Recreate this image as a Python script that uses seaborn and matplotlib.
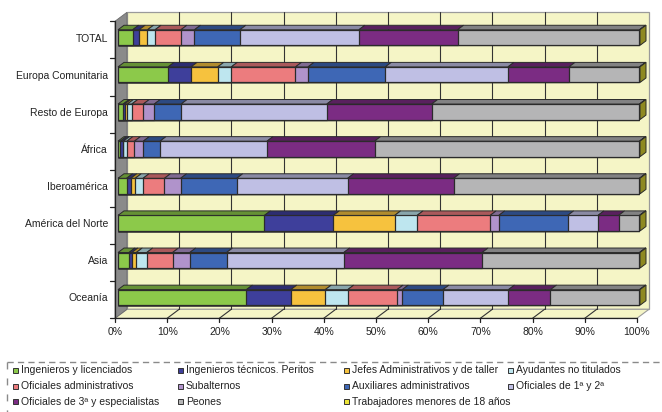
import numpy as np
import pandas as pd
import matplotlib
matplotlib.use('Agg')
import matplotlib.pyplot as plt
from matplotlib.patches import Polygon, Rectangle
from matplotlib.lines import Line2D
from matplotlib.colors import to_rgb
import seaborn as sns

# Data (% of each region)
regions = ['TOTAL', 'Europa Comunitaria', 'Resto de Europa', 'África', 'Iberoamérica',
           'América del Norte', 'Asia', 'Oceanía']

ing_lic = [2.8, 9.6, 1.0, 0.45, 1.65, 28.05, 2.1, 24.6]
ing_tec = [1.25, 4.4, 0.3, 0.5, 0.8, 13.2, 0.55, 8.5]
jefes = [1.6, 5.1, 0.5, 0.1, 0.85, 11.75, 0.85, 6.6]
ayudantes = [1.45, 2.6, 0.85, 0.65, 1.5, 4.3, 2.0, 4.3]
of_admin = [4.95, 12.3, 2.2, 1.45, 4.1, 14.0, 4.95, 9.45]
subalternos = [2.6, 2.4, 2.1, 1.7, 3.1, 1.65, 3.3, 1.0]
aux_admin = [8.7, 14.8, 5.15, 3.2, 10.75, 13.2, 7.05, 7.8]
of_1_2 = [22.8, 23.5, 27.9, 20.5, 21.25, 5.8, 22.45, 12.55]
of_3 = [18.9, 11.7, 20.1, 20.6, 20.3, 3.95, 26.5, 8.05]
peones = [34.85, 13.5, 39.8, 50.75, 35.6, 4.0, 30.15, 17.05]
menores = [0.1, 0.1, 0.1, 0.1, 0.1, 0.1, 0.1, 0.1]

labels = ['Ingenieros y licenciados', 'Ingenieros técnicos. Peritos',
          'Jefes Administrativos y de taller', 'Ayudantes no titulados',
          'Oficiales administrativos', 'Subalternos', 'Auxiliares administrativos',
          'Oficiales de 1ª y 2ª', 'Oficiales de 3ª y especialistas', 'Peones',
          'Trabajadores menores de 18 años']
series = [ing_lic, ing_tec, jefes, ayudantes, of_admin, subalternos, aux_admin,
          of_1_2, of_3, peones, menores]
xticks = [0, 10, 20, 30, 40, 50, 60, 70, 80, 90, 100]

COLORS = ['#8CC94A', '#3E3F9B', '#F6C23E', '#BEE6EF', '#EC7C7E', '#B093CB',
          '#3E67B5', '#BFBFE4', '#7B2C83', '#B5B5B6', '#EDE537']
EDGE = '#2b2b2b'
WALL = '#F5F5C6'

sns.set_style('white')
plt.rcParams['font.family'] = ['Liberation Sans', 'DejaVu Sans']
plt.rcParams['font.size'] = 7.5

W, H = 662, 412
AX_L, AX_R, AX_T, AX_B = 118, 640, 19, 316
SX = (AX_R - AX_L) / 100.0
SY = (AX_B - AX_T) / 8.0
FRONT = (-3, -2.25)
BACK = (9, 6.75)
BAR_D = (6, 4.5)


def shift(x, y, d):
    return (x + d[0] / SX, y - d[1] / SY)


def darker(c, f=0.72):
    return tuple(v * f for v in to_rgb(c))


fig = plt.figure(figsize=(W / 100, H / 100), dpi=100)
ax = fig.add_axes([AX_L / W, 1 - AX_B / H, (AX_R - AX_L) / W, (AX_B - AX_T) / H])

# cumulative stack, drawn longest first so every segment stays visible
cum = np.cumsum(np.array(series), axis=0)
bars = {}
for i in reversed(range(len(series))):
    df = pd.DataFrame({'region': regions, 'value': cum[i]})
    sns.barplot(data=df, x='value', y='region', order=regions, orient='h',
                color=COLORS[i], saturation=1, width=0.42, edgecolor=EDGE,
                linewidth=0.9, errorbar=None, ax=ax, zorder=3)
    bars[i] = ax.containers[-1]

ax.set_xlim(0, 100)
ax.set_ylim(7.5, -0.5)
ax.patch.set_visible(False)
for s in ax.spines.values():
    s.set_visible(False)
ax.set_xlabel('')
ax.set_ylabel('')
ax.set_xticks([])
ax.set_yticks(range(len(regions)))
ax.set_yticklabels(regions, fontsize=7.5, color='#222222')
ax.tick_params(axis='y', length=0, pad=7.2)

y0, y1 = -0.5, 7.5
# back wall
wall = [shift(0, y0, BACK), shift(100, y0, BACK), shift(100, y1, BACK), shift(0, y1, BACK)]
ax.add_patch(Polygon(wall, closed=True, facecolor=WALL, edgecolor='#9a9a9a',
                     linewidth=0.9, zorder=0.5, clip_on=False))
for t in xticks[1:-1]:
    a, b = shift(t, y0, BACK), shift(t, y1, BACK)
    ax.plot([a[0], b[0]], [a[1], b[1]], color='#333333', lw=0.8, zorder=1, clip_on=False)
# floor
floor = [shift(0, y1, FRONT), shift(100, y1, FRONT), shift(100, y1, BACK), shift(0, y1, BACK)]
ax.add_patch(Polygon(floor, closed=True, facecolor=WALL, edgecolor='#9a9a9a',
                     linewidth=0.8, zorder=0.8, clip_on=False))
for t in xticks[1:-1]:
    a, b = shift(t, y1, FRONT), shift(t, y1, BACK)
    ax.plot([a[0], b[0]], [a[1], b[1]], color='#333333', lw=0.8, zorder=1, clip_on=False)
# left wall
lw_ = [shift(0, y0, FRONT), shift(0, y0, BACK), shift(0, y1, BACK), shift(0, y1, FRONT)]
ax.add_patch(Polygon(lw_, closed=True, facecolor='#8A8A8A', edgecolor='#6a6a6a',
                     linewidth=0.6, zorder=1, clip_on=False))

# axes lines on the front plane
a, b = shift(0, y0, FRONT), shift(0, y1, FRONT)
ax.plot([a[0], b[0]], [a[1], b[1]], color='#222222', lw=0.9, zorder=2, clip_on=False)
for k in np.arange(y0, y1 + 0.5, 1.0):
    p = shift(0, k, FRONT)
    q = shift(0, k, (FRONT[0] - 5, FRONT[1]))
    ax.plot([q[0], p[0]], [q[1], p[1]], color='#222222', lw=0.9, zorder=2, clip_on=False)
a, b = shift(0, y1, FRONT), shift(100, y1, FRONT)
ax.plot([a[0], b[0]], [a[1], b[1]], color='#222222', lw=0.9, zorder=2, clip_on=False)
for t in xticks:
    p = shift(t, y1, FRONT)
    q = shift(t, y1, (FRONT[0], FRONT[1] - 3.5))
    ax.plot([p[0], q[0]], [p[1], q[1]], color='#222222', lw=0.9, zorder=2, clip_on=False)
    lx, ly = shift(t, y1, (FRONT[0], FRONT[1] - 13.4))
    ax.text(lx, ly, f'{t}%', ha='center', va='center', fontsize=7.5, color='#222222')

# 3D top faces of each segment and the end face
for i in range(len(series)):
    for j, p in enumerate(bars[i].patches):
        x1 = p.get_x() + p.get_width()
        x0 = 0 if i == 0 else bars[i - 1].patches[j].get_x() + bars[i - 1].patches[j].get_width()
        yt = p.get_y()
        top = [(x0, yt), (x1, yt), shift(x1, yt, BAR_D), shift(x0, yt, BAR_D)]
        ax.add_patch(Polygon(top, closed=True, facecolor=darker(COLORS[i]),
                             edgecolor=EDGE, linewidth=0.7, zorder=3, clip_on=False))
        if i == len(series) - 1:
            yb = yt + p.get_height()
            side = [(x1, yt), (x1, yb), shift(x1, yb, BAR_D), shift(x1, yt, BAR_D)]
            ax.add_patch(Polygon(side, closed=True, facecolor=darker(COLORS[i], 0.6),
                                 edgecolor=EDGE, linewidth=0.7, zorder=3, clip_on=False))

# legend, row by row in four columns
fig.add_artist(Line2D([7.3 / W, 1], [1 - 362.3 / H, 1 - 362.3 / H], color='#8a8a8a',
                      lw=1.0, linestyle=(0, (4.5, 3)), transform=fig.transFigure))
fig.add_artist(Line2D([7.3 / W, 7.3 / W], [1 - 362.3 / H, 0], color='#8a8a8a',
                      lw=1.0, linestyle=(0, (5, 6.5)), transform=fig.transFigure))
col_x = [12.7, 178, 344, 508]
row_y = [370, 386, 401.7]
sq = 5
for i, lab in enumerate(labels):
    cx, cy = col_x[i % 4], row_y[i // 4]
    fig.add_artist(Rectangle((cx / W, 1 - (cy + sq / 2) / H), sq / W, sq / H,
                             facecolor=COLORS[i], edgecolor='#333333', linewidth=0.7,
                             transform=fig.transFigure))
    fig.text((cx + 8) / W, 1 - cy / H, lab, ha='left', va='center', fontsize=7.5,
             color='#222222')

fig.savefig('out.png', dpi=100)
